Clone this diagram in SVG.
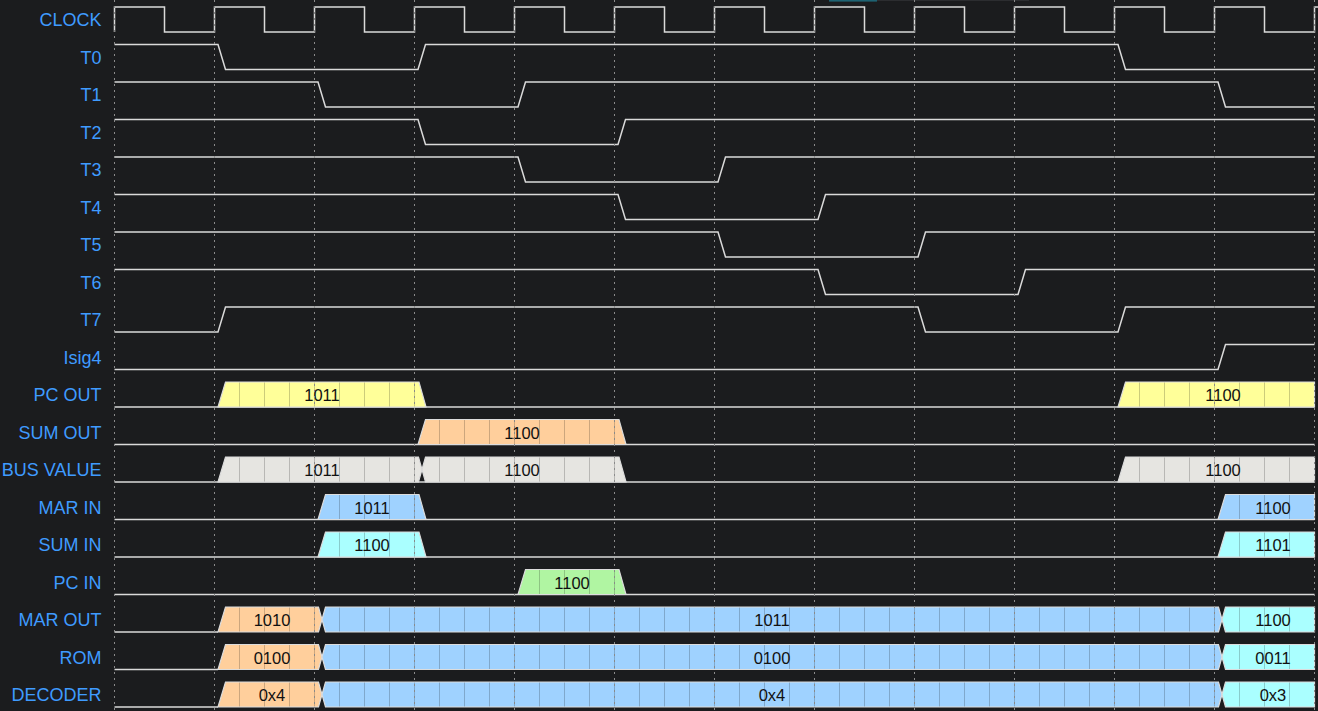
<svg xmlns="http://www.w3.org/2000/svg" width="1318" height="711" viewBox="0 0 1318 711">
  <defs>
    <style>
      .lbl { font-family: "Liberation Sans", Arial, sans-serif; font-size: 18px; fill: #3f9bff; text-anchor: end; }
      .val { font-family: "Liberation Sans", Arial, sans-serif; font-size: 16.5px; fill: #111111; text-anchor: middle; }
      .sig { fill: none; stroke: #dadada; stroke-width: 1.5; stroke-linejoin: miter; }
      .base { fill: none; stroke: #dadada; stroke-width: 1.5; }
      .seg { stroke: #dcdcdc; stroke-width: 1.2; stroke-linejoin: miter; }
      .yel { fill: url(#pYel); }
      .pch { fill: url(#pPch); }
      .gry { fill: url(#pGry); }
      .blu { fill: url(#pBlu); }
      .cyn { fill: url(#pCyn); }
      .grn { fill: url(#pGrn); }
      .tick { stroke: #8a8a8a; stroke-width: 1; stroke-dasharray: 2 4; }
    </style>
    <!-- value fills with a faint 25px time grid -->
    <pattern id="pYel" patternUnits="userSpaceOnUse" x="102" y="0" width="25" height="711">
      <rect width="25" height="711" fill="#ffff99"/>
      <line x1="12.5" y1="0" x2="12.5" y2="711" stroke="#000" stroke-opacity="0.2"/>
    </pattern>
    <pattern id="pPch" patternUnits="userSpaceOnUse" x="102" y="0" width="25" height="711">
      <rect width="25" height="711" fill="#ffcf9c"/>
      <line x1="12.5" y1="0" x2="12.5" y2="711" stroke="#000" stroke-opacity="0.2"/>
    </pattern>
    <pattern id="pGry" patternUnits="userSpaceOnUse" x="102" y="0" width="25" height="711">
      <rect width="25" height="711" fill="#e6e5e1"/>
      <line x1="12.5" y1="0" x2="12.5" y2="711" stroke="#000" stroke-opacity="0.2"/>
    </pattern>
    <pattern id="pBlu" patternUnits="userSpaceOnUse" x="102" y="0" width="25" height="711">
      <rect width="25" height="711" fill="#9fd2ff"/>
      <line x1="12.5" y1="0" x2="12.5" y2="711" stroke="#000" stroke-opacity="0.2"/>
    </pattern>
    <pattern id="pCyn" patternUnits="userSpaceOnUse" x="102" y="0" width="25" height="711">
      <rect width="25" height="711" fill="#aaffff"/>
      <line x1="12.5" y1="0" x2="12.5" y2="711" stroke="#000" stroke-opacity="0.2"/>
    </pattern>
    <pattern id="pGrn" patternUnits="userSpaceOnUse" x="102" y="0" width="25" height="711">
      <rect width="25" height="711" fill="#b0f5a2"/>
      <line x1="12.5" y1="0" x2="12.5" y2="711" stroke="#000" stroke-opacity="0.2"/>
    </pattern>
  </defs>

  <rect width="1318" height="711" fill="#1b1c1e"/>
  <!-- scroll indicator -->
  <rect x="829" y="0" width="200" height="1" fill="#2c2d30"/>
  <rect x="829" y="0" width="48" height="1.6" fill="#1e6272"/>

  <g id="clock">
    <text class="lbl" x="101.5" y="26">CLOCK</text>
    <path class="sig" d="M114.5,32 V7 H164.5 V32 H214.5 V7 H264.5 V32 H314.5 V7 H364.5 V32 H414.5 V7 H464.5 V32 H514.5 V7 H564.5 V32 H614.5 V7 H664.5 V32 H714.5 V7 H764.5 V32 H814.5 V7 H864.5 V32 H914.5 V7 H964.5 V32 H1014.5 V7 H1064.5 V32 H1114.5 V7 H1164.5 V32 H1214.5 V7 H1264.5 V32 H1314.5 V7 H1318"/>
  </g>
  <g id="t0">
    <text class="lbl" x="101.5" y="63.5">T0</text>
    <path class="sig" d="M114.5,44.5 H218 L225.5,69.5 H418 L425.5,44.5 H1118 L1125.5,69.5 H1314.5"/>
  </g>
  <g id="t1">
    <text class="lbl" x="101.5" y="101">T1</text>
    <path class="sig" d="M114.5,82 H318 L325.5,107 H518 L525.5,82 H1218 L1225.5,107 H1314.5"/>
  </g>
  <g id="t2">
    <text class="lbl" x="101.5" y="138.5">T2</text>
    <path class="sig" d="M114.5,119.5 H418 L425.5,144.5 H618 L625.5,119.5 H1314.5"/>
  </g>
  <g id="t3">
    <text class="lbl" x="101.5" y="176">T3</text>
    <path class="sig" d="M114.5,157 H518 L525.5,182 H718 L725.5,157 H1314.5"/>
  </g>
  <g id="t4">
    <text class="lbl" x="101.5" y="213.5">T4</text>
    <path class="sig" d="M114.5,194.5 H618 L625.5,219.5 H818 L825.5,194.5 H1314.5"/>
  </g>
  <g id="t5">
    <text class="lbl" x="101.5" y="251">T5</text>
    <path class="sig" d="M114.5,232 H718 L725.5,257 H918 L925.5,232 H1314.5"/>
  </g>
  <g id="t6">
    <text class="lbl" x="101.5" y="288.5">T6</text>
    <path class="sig" d="M114.5,269.5 H818 L825.5,294.5 H1018 L1025.5,269.5 H1314.5"/>
  </g>
  <g id="t7">
    <text class="lbl" x="101.5" y="326">T7</text>
    <path class="sig" d="M114.5,332 H218 L225.5,307 H918 L925.5,332 H1118 L1125.5,307 H1314.5"/>
  </g>
  <g id="isig4">
    <text class="lbl" x="101.5" y="363.5">Isig4</text>
    <path class="sig" d="M114.5,369.5 H1218 L1225.5,344.5 H1314.5"/>
  </g>

  <g id="pc-out">
    <text class="lbl" x="101.5" y="401">PC OUT</text>
    <line class="base" x1="114.5" y1="407" x2="1314.5" y2="407"/>
    <polygon class="seg yel" points="218,407 225.5,382 419,382 426,407"/>
    <polygon class="seg yel" points="1118,407 1125.5,382 1314.5,382 1314.5,407"/>
    <text class="val" x="322" y="401">1011</text>
    <text class="val" x="1223" y="401">1100</text>
  </g>
  <g id="sum-out">
    <text class="lbl" x="101.5" y="438.5">SUM OUT</text>
    <line class="base" x1="114.5" y1="444.5" x2="1314.5" y2="444.5"/>
    <polygon class="seg pch" points="418,444.5 425.5,419.5 619,419.5 626,444.5"/>
    <text class="val" x="522" y="438.5">1100</text>
  </g>
  <g id="bus-value">
    <text class="lbl" x="101.5" y="476">BUS VALUE</text>
    <line class="base" x1="114.5" y1="482" x2="1314.5" y2="482"/>
    <polygon class="seg gry" points="218,482 225.5,457 418.5,457 422,469.5 418.5,482"/>
    <polygon class="seg gry" points="422,469.5 425.5,457 619,457 626,482 425.5,482"/>
    <polygon class="seg gry" points="1118,482 1125.5,457 1314.5,457 1314.5,482"/>
    <text class="val" x="322" y="476">1011</text>
    <text class="val" x="522" y="476">1100</text>
    <text class="val" x="1223" y="476">1100</text>
  </g>
  <g id="mar-in">
    <text class="lbl" x="101.5" y="513.5">MAR IN</text>
    <line class="base" x1="114.5" y1="519.5" x2="1314.5" y2="519.5"/>
    <polygon class="seg blu" points="318,519.5 325.5,494.5 419,494.5 426,519.5"/>
    <polygon class="seg blu" points="1218,519.5 1225.5,494.5 1314.5,494.5 1314.5,519.5"/>
    <text class="val" x="372" y="513.5">1011</text>
    <text class="val" x="1273" y="513.5">1100</text>
  </g>
  <g id="sum-in">
    <text class="lbl" x="101.5" y="551">SUM IN</text>
    <line class="base" x1="114.5" y1="557" x2="1314.5" y2="557"/>
    <polygon class="seg cyn" points="318,557 325.5,532 419,532 426,557"/>
    <polygon class="seg cyn" points="1218,557 1225.5,532 1314.5,532 1314.5,557"/>
    <text class="val" x="372" y="551">1100</text>
    <text class="val" x="1273" y="551">1101</text>
  </g>
  <g id="pc-in">
    <text class="lbl" x="101.5" y="588.5">PC IN</text>
    <line class="base" x1="114.5" y1="594.5" x2="1314.5" y2="594.5"/>
    <polygon class="seg grn" points="518,594.5 525.5,569.5 619,569.5 626,594.5"/>
    <text class="val" x="572" y="588.5">1100</text>
  </g>
  <g id="mar-out">
    <text class="lbl" x="101.5" y="626">MAR OUT</text>
    <line class="base" x1="114.5" y1="632" x2="218" y2="632"/>
    <polygon class="seg pch" points="218,632 225.5,607 318.5,607 322,619.5 318.5,632"/>
    <polygon class="seg blu" points="322,619.5 325.5,607 1218.5,607 1222,619.5 1218.5,632 325.5,632"/>
    <polygon class="seg cyn" points="1222,619.5 1225.5,607 1314.5,607 1314.5,632 1225.5,632"/>
    <text class="val" x="272" y="626">1010</text>
    <text class="val" x="772" y="626">1011</text>
    <text class="val" x="1273" y="626">1100</text>
  </g>
  <g id="rom">
    <text class="lbl" x="101.5" y="663.5">ROM</text>
    <line class="base" x1="114.5" y1="669.5" x2="218" y2="669.5"/>
    <polygon class="seg pch" points="218,669.5 225.5,644.5 318.5,644.5 322,657 318.5,669.5"/>
    <polygon class="seg blu" points="322,657 325.5,644.5 1218.5,644.5 1222,657 1218.5,669.5 325.5,669.5"/>
    <polygon class="seg cyn" points="1222,657 1225.5,644.5 1314.5,644.5 1314.5,669.5 1225.5,669.5"/>
    <text class="val" x="272" y="663.5">0100</text>
    <text class="val" x="772" y="663.5">0100</text>
    <text class="val" x="1273" y="663.5">0011</text>
  </g>
  <g id="decoder">
    <text class="lbl" x="101.5" y="701">DECODER</text>
    <line class="base" x1="114.5" y1="707" x2="218" y2="707"/>
    <polygon class="seg pch" points="218,707 225.5,682 318.5,682 322,694.5 318.5,707"/>
    <polygon class="seg blu" points="322,694.5 325.5,682 1218.5,682 1222,694.5 1218.5,707 325.5,707"/>
    <polygon class="seg cyn" points="1222,694.5 1225.5,682 1314.5,682 1314.5,707 1225.5,707"/>
    <text class="val" x="272" y="701">0x4</text>
    <text class="val" x="772" y="701">0x4</text>
    <text class="val" x="1273" y="701">0x3</text>
  </g>

  <!-- dotted clock-edge markers -->
  <g id="grid">
    <line class="tick" x1="114.5" y1="0" x2="114.5" y2="711"/>
    <line class="tick" x1="214.5" y1="0" x2="214.5" y2="711"/>
    <line class="tick" x1="314.5" y1="0" x2="314.5" y2="711"/>
    <line class="tick" x1="414.5" y1="0" x2="414.5" y2="711"/>
    <line class="tick" x1="514.5" y1="0" x2="514.5" y2="711"/>
    <line class="tick" x1="614.5" y1="0" x2="614.5" y2="711"/>
    <line class="tick" x1="714.5" y1="0" x2="714.5" y2="711"/>
    <line class="tick" x1="814.5" y1="0" x2="814.5" y2="711"/>
    <line class="tick" x1="914.5" y1="0" x2="914.5" y2="711"/>
    <line class="tick" x1="1014.5" y1="0" x2="1014.5" y2="711"/>
    <line class="tick" x1="1114.5" y1="0" x2="1114.5" y2="711"/>
    <line class="tick" x1="1214.5" y1="0" x2="1214.5" y2="711"/>
    <line class="tick" x1="1314.5" y1="0" x2="1314.5" y2="711"/>
  </g>
</svg>
